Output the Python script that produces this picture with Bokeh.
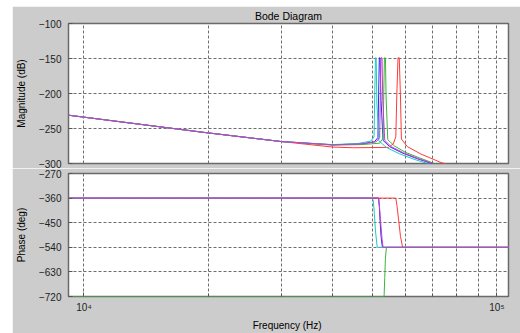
from bokeh.plotting import figure
from bokeh.layouts import column
from bokeh.models import Range1d, FixedTicker
from bokeh.embed import file_html
from bokeh.resources import INLINE

# ---------------- data ----------------
title_text = "Bode Diagram"
mag_label = "Magnitude (dB)"
phase_label = "Phase (deg)"
freq_label = "Frequency  (Hz)"

x_major_ticks = [1e4, 1e5]
x_major_labels = ["10\u2074", "10\u2075"]
x_minor_ticks = [2e4, 3e4, 4e4, 5e4, 6e4, 7e4, 8e4, 9e4]
mag_ticks = [-300, -250, -200, -150, -100]
phase_ticks = [-720, -630, -540, -450, -360, -270]

series_names = ["blue", "green", "red", "cyan", "magenta"]

# magnitude (Hz, dB)
blue_f = [9173, 19600, 30000, 40000, 47000, 50500, 51500, 51700, 51900, 52100, 52400, 53000, 55000, 59000, 64000, 69500, 76000]
blue_m = [-231, -255.7, -268.6, -273.3, -272, -269, -263, -200, -149, -149, -210, -267, -276, -285, -293, -300, -306]

green_f = [9173, 19600, 30000, 40000, 47000, 52000, 53000, 53200, 53400, 53700, 53900, 54400, 56500, 60000, 65000, 70500, 77000]
green_m = [-231, -255.7, -268.6, -273.8, -273, -271, -264, -200, -149, -149, -205, -266, -275, -284, -292, -300, -306]

red_f = [9173, 19600, 30000, 40000, 45000, 54600, 56100, 56900, 57200, 57600, 58000, 58400, 58700, 60700, 65500, 73200, 80000]
red_m = [-231, -255.7, -268.6, -276.5, -277.5, -277, -272, -262, -205, -149, -149, -205, -265, -276, -286.6, -298.6, -305]

cyan_f = [9173, 19600, 30000, 40000, 46000, 49500, 50400, 50600, 50800, 51000, 51200, 51800, 54000, 58000, 63000, 68000, 74000]
cyan_m = [-231, -255.7, -268.6, -273, -271.5, -268, -262, -200, -149, -149, -215, -268, -277, -286, -294, -300, -306]

magenta_f = [9173, 19600, 30000, 40000, 47000, 51000, 52000, 52200, 52400, 52700, 52900, 53500, 55500, 59500, 64500, 70000, 76000]
magenta_m = [-231, -255.7, -268.6, -273.3, -272, -269, -263, -200, -149, -149, -210, -267, -276, -285, -293, -300, -306]

# phase (Hz, deg)
blue_pf = [9173, 51700, 51900, 52100, 52400, 52800, 110000]
blue_p = [-360, -360, -390, -440, -500, -540, -540]

green_pf = [9173, 53300, 53500, 53700, 54000, 110000]
green_p = [-720, -720, -650, -580, -540, -540]

red_pf = [9173, 56900, 57300, 57800, 58400, 59100, 110000]
red_p = [-360, -360, -390, -440, -500, -540, -540]

cyan_pf = [9173, 49900, 50200, 50500, 50800, 51300, 110000]
cyan_p = [-360, -360, -370, -420, -480, -540, -540]

magenta_pf = [9173, 51700, 52000, 52300, 52700, 53000, 110000]
magenta_p = [-360, -360, -400, -450, -510, -540, -540]

colors = {"blue": "#2a2aff", "green": "#3cb43c", "red": "#ff3a3a",
          "cyan": "#1ec8c8", "magenta": "#c83cc8"}
mag_data = {"blue": (blue_f, blue_m), "green": (green_f, green_m), "red": (red_f, red_m),
            "cyan": (cyan_f, cyan_m), "magenta": (magenta_f, magenta_m)}
phase_data = {"blue": (blue_pf, blue_p), "green": (green_pf, green_p), "red": (red_pf, red_p),
              "cyan": (cyan_pf, cyan_p), "magenta": (magenta_pf, magenta_p)}

# ---------------- styling ----------------
FONT = "Liberation Sans"
BG = "#cccccc"
GRID = "#6e6e6e"
TXT = "#1e1e1e"

x_range = Range1d(9173, 106660)


def style(p, yticks, ylabel):
    p.background_fill_color = "white"
    p.border_fill_color = BG
    p.outline_line_color = "#6a6a6a"
    p.outline_line_width = 1.5
    xt = FixedTicker(ticks=x_major_ticks, minor_ticks=x_minor_ticks)
    yt = FixedTicker(ticks=yticks)
    p.xaxis.ticker = xt
    p.xgrid.ticker = xt
    p.yaxis.ticker = yt
    p.ygrid.ticker = yt
    for g in (p.xgrid, p.ygrid):
        g.grid_line_color = GRID
        g.grid_line_dash = "3 2"
        g.grid_line_width = 1
    p.xgrid.minor_grid_line_color = GRID
    p.xgrid.minor_grid_line_dash = "3 2"
    for ax in (p.xaxis, p.yaxis):
        ax.axis_line_color = None
        ax.major_tick_in = 4
        ax.major_tick_out = 0
        ax.minor_tick_in = 3
        ax.minor_tick_out = 0
        ax.major_tick_line_color = "#555555"
        ax.minor_tick_line_color = "#555555"
        ax.major_label_text_font = FONT
        ax.major_label_text_font_size = "10px"
        ax.major_label_text_color = TXT
        ax.axis_label_text_font = FONT
        ax.axis_label_text_font_size = "10px"
        ax.axis_label_text_font_style = "normal"
        ax.axis_label_text_color = "#000000"
    p.yaxis.major_label_standoff = 7
    p.yaxis.axis_label = ylabel
    p.yaxis.axis_label_standoff = 9


p1 = figure(width=508, height=162, x_axis_type="log", x_range=x_range,
            y_range=Range1d(-300, -100), output_backend="svg", toolbar_location=None,
            min_border_left=50, min_border_right=12, min_border_top=17, min_border_bottom=5,
            margin=(6, 0, 0, 12))
style(p1, mag_ticks, mag_label)
p1.xaxis.visible = False
p1.title.text = title_text
p1.title.align = "center"
p1.title.text_font = FONT
p1.title.text_font_size = "10.5px"
p1.title.text_font_style = "normal"
p1.title.text_color = "#000000"
p1.title.standoff = 3

p2 = figure(width=508, height=165, x_axis_type="log", x_range=x_range,
            y_range=Range1d(-720, -270), output_backend="svg", toolbar_location=None,
            min_border_left=50, min_border_right=12, min_border_top=5, min_border_bottom=36,
            margin=(0, 0, 0, 12))
style(p2, phase_ticks, phase_label)
p2.xaxis.axis_label = freq_label
p2.xaxis.major_label_overrides = {t: lab for t, lab in zip(x_major_ticks, x_major_labels)}
p2.xaxis.major_label_standoff = 5
p2.xaxis.axis_label_standoff = 4

for name in series_names:
    f, m = mag_data[name]
    p1.line(f, m, line_color=colors[name], line_width=1)
    pf, ph = phase_data[name]
    p2.line(pf, ph, line_color=colors[name], line_width=1)

layout = column(p1, p2, spacing=0)
open("out.html", "w").write(file_html(layout, INLINE))
